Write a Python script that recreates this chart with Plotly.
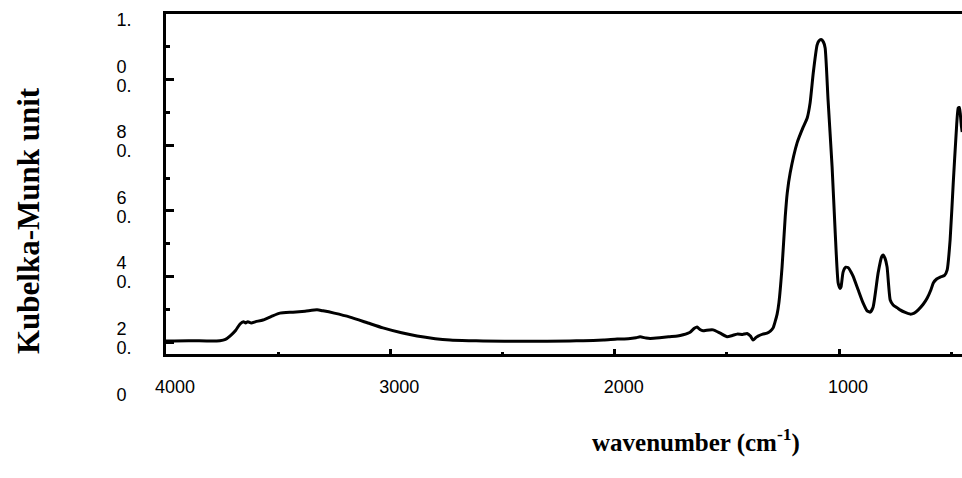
import plotly.graph_objects as go

# Diffuse-reflectance spectrum (Kubelka-Munk) versus wavenumber
wavenumber = [
    4000, 3900, 3800, 3760, 3735, 3715, 3690, 3670, 3655, 3645, 3635, 3620,
    3600, 3568, 3530, 3492, 3434, 3380, 3327, 3300, 3250, 3180, 3100, 3033,
    2950, 2881, 2800, 2734, 2650, 2587, 2400, 2200, 2141, 2050, 1989, 1940,
    1905, 1887, 1860, 1842, 1800, 1760, 1720, 1695, 1664, 1645, 1633, 1620,
    1606, 1590, 1561, 1530, 1499, 1475, 1454, 1430, 1410, 1395, 1383, 1370,
    1361, 1340, 1321, 1305, 1294, 1285, 1276, 1268, 1254, 1240, 1231, 1218,
    1187, 1160, 1142, 1129, 1115, 1098, 1090, 1080, 1070, 1062, 1049, 1031,
    1017, 1004, 995, 991, 982, 970, 958, 948, 937, 915, 893, 875, 861, 848,
    826, 810, 803, 795, 786, 772, 759, 740, 728, 705, 683, 665, 647, 625,
    607, 590, 580, 565, 549, 530, 518, 505, 491, 478, 469, 464, 460, 455, 451,
]
km_unit = [
    0.003, 0.004, 0.003, 0.004, 0.008, 0.018, 0.035, 0.055, 0.062, 0.058, 0.062, 0.058,
    0.062, 0.067, 0.078, 0.088, 0.091, 0.094, 0.098, 0.095, 0.088, 0.076, 0.058, 0.043,
    0.028, 0.018, 0.010, 0.006, 0.004, 0.003, 0.002, 0.003, 0.004, 0.006, 0.009, 0.010,
    0.013, 0.016, 0.012, 0.011, 0.013, 0.016, 0.018, 0.022, 0.030, 0.042, 0.046, 0.038,
    0.034, 0.036, 0.037, 0.027, 0.016, 0.020, 0.024, 0.023, 0.026, 0.018, 0.006, 0.014,
    0.018, 0.024, 0.027, 0.034, 0.043, 0.062, 0.085, 0.120, 0.229, 0.381, 0.454, 0.515,
    0.607, 0.655, 0.683, 0.729, 0.820, 0.905, 0.918, 0.922, 0.915, 0.896, 0.738, 0.534,
    0.332, 0.180, 0.163, 0.168, 0.213, 0.228, 0.226, 0.215, 0.200, 0.159, 0.119, 0.095, 0.091, 0.107,
    0.210, 0.260, 0.265, 0.255, 0.229, 0.128, 0.113, 0.104, 0.098, 0.090, 0.085, 0.088, 0.098, 0.115,
    0.134, 0.160, 0.180, 0.192, 0.198, 0.203, 0.220, 0.311, 0.485, 0.637, 0.713, 0.715, 0.698, 0.660, 0.640,
]

# Axis ticks
x_tickvals = [4000, 3000, 2000, 1000]
x_ticktext = ["4000", "3000", "2000", "1000"]
x_minorvals = [3500, 2500, 1500, 500]
y_tickvals = [0.0, 0.2, 0.4, 0.6, 0.8, 1.0]
y_ticktext = ["0.<br><br>0\u00a0", "0.<br><br>2\u00a0", "0.<br><br>4\u00a0",
              "0.<br><br>6\u00a0", "0.<br><br>8\u00a0", "1.<br><br>0\u00a0"]
y_minorvals = [0.1, 0.3, 0.5, 0.7, 0.9]

x_title = "<b>wavenumber (cm<sup>-1</sup>)</b>"
y_title = "<b>Kubelka-Munk unit</b>"

W, H = 962, 478
L, R, T, B = 166, 0, 14, 124

fig = go.Figure()
fig.add_trace(go.Scatter(
    x=wavenumber, y=km_unit, mode="lines",
    line=dict(color="black", width=3, shape="spline", smoothing=0.5),
    hoverinfo="skip", showlegend=False,
))

tick_font = dict(family="Liberation Sans, Arial, sans-serif", size=18, color="black")

fig.update_xaxes(
    range=[4000, 452], showgrid=False, zeroline=False,
    showline=True, linecolor="black", linewidth=3, mirror=True,
    tickmode="array", tickvals=x_tickvals, ticktext=x_ticktext,
    ticks="inside", ticklen=5, tickwidth=3, tickcolor="black",
    tickfont=tick_font, ticklabelshift=-9, ticklabelstandoff=14,
    minor=dict(tickmode="array", tickvals=x_minorvals, ticks="inside",
               ticklen=2, tickwidth=3, tickcolor="black"),
)
fig.update_yaxes(
    range=[-0.0366, 1.0], showgrid=False, zeroline=False,
    showline=True, linecolor="black", linewidth=3, mirror=False,
    tickmode="array", tickvals=y_tickvals, ticktext=y_ticktext,
    ticks="inside", ticklen=8, tickwidth=3, tickcolor="black",
    tickfont=tick_font, ticklabelshift=29, ticklabelstandoff=28,
    minor=dict(tickmode="array", tickvals=y_minorvals, ticks="inside",
               ticklen=4, tickwidth=3, tickcolor="black"),
)

serif = "Liberation Serif, Times New Roman, serif"
pw, ph = W - L - R, H - T - B
fig.add_annotation(
    text=y_title, textangle=-90, showarrow=False,
    font=dict(family=serif, size=31, color="black"),
    xref="paper", yref="paper", x=(28 - L) / pw, y=(H - B - 221) / ph,
    xanchor="center", yanchor="middle",
)
fig.add_annotation(
    text=x_title, showarrow=False,
    font=dict(family=serif, size=25, color="black"),
    xref="paper", yref="paper", x=(696 - L) / pw, y=(H - B - 440) / ph,
    xanchor="center", yanchor="middle",
)

fig.update_layout(
    width=W, height=H, margin=dict(l=L, r=R, t=T, b=B, pad=0),
    paper_bgcolor="white", plot_bgcolor="white",
)
fig.write_html("out.html")
